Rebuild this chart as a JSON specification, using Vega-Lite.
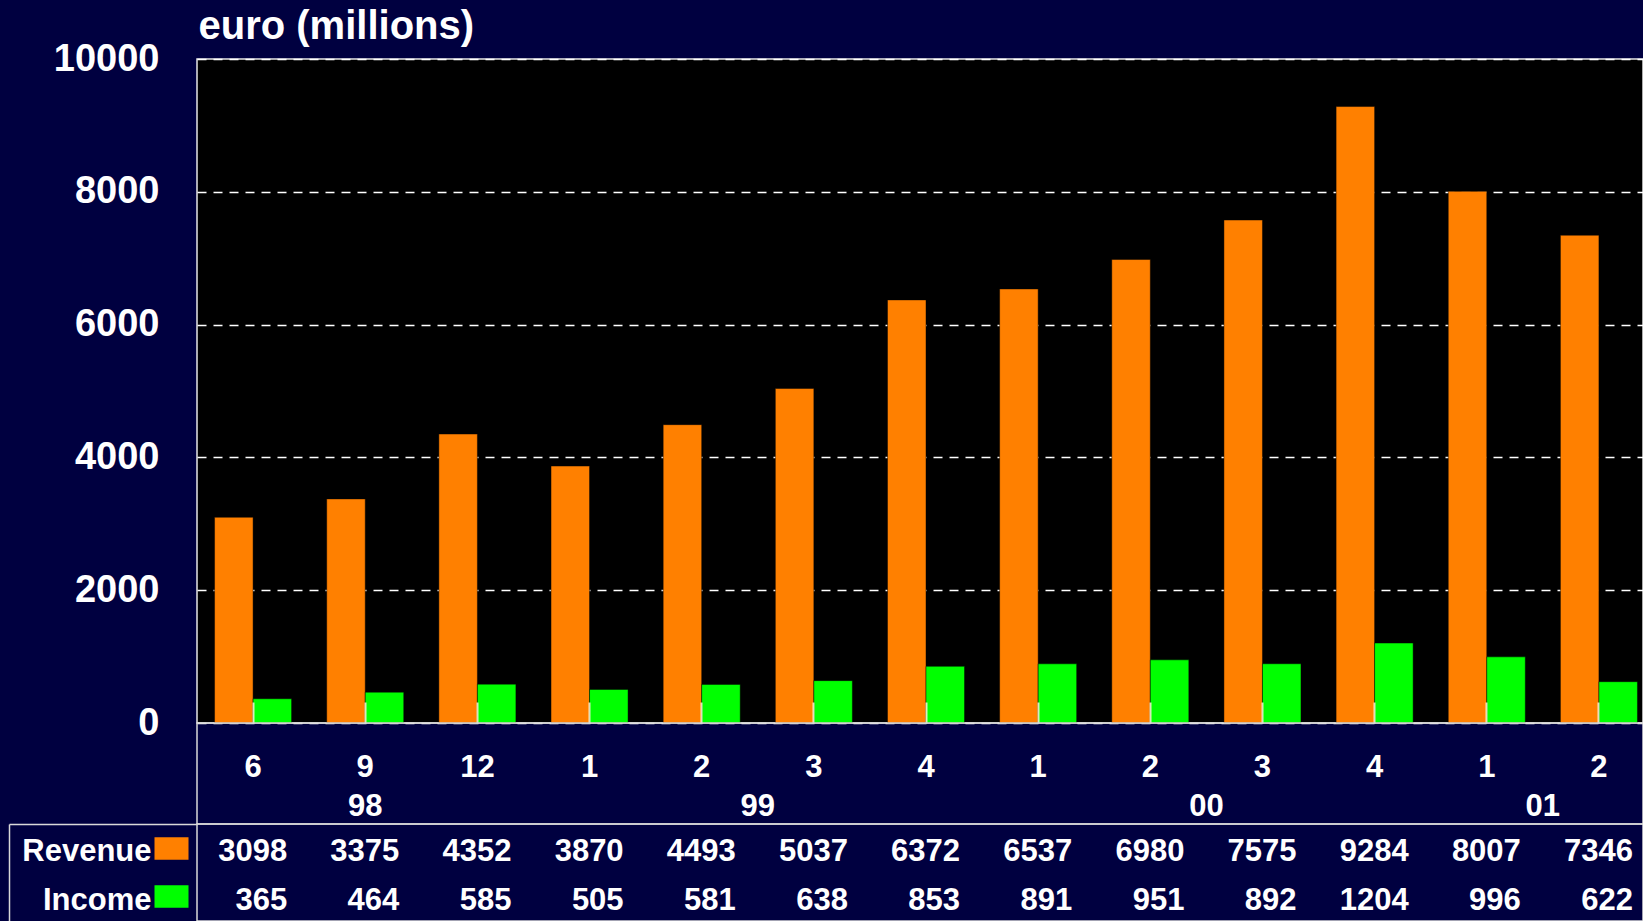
{
  "$schema": "https://vega.github.io/schema/vega-lite/v6.json",
  "background": "#000040",
  "padding": {"left": 7, "top": 5, "right": 0, "bottom": 0},
  "autosize": {"type": "pad"},
  "config": {"font": "Liberation Sans", "axis": {"labelFont": "Liberation Sans", "titleFont": "Liberation Sans"}},
  "datasets": {
    "quarters": [
      {"period": "1998-06", "quarter": "6", "year": "98", "Revenue": 3098, "Income": 365},
      {"period": "1998-09", "quarter": "9", "year": "98", "Revenue": 3375, "Income": 464},
      {"period": "1998-12", "quarter": "12", "year": "98", "Revenue": 4352, "Income": 585},
      {"period": "1999-Q1", "quarter": "1", "year": "99", "Revenue": 3870, "Income": 505},
      {"period": "1999-Q2", "quarter": "2", "year": "99", "Revenue": 4493, "Income": 581},
      {"period": "1999-Q3", "quarter": "3", "year": "99", "Revenue": 5037, "Income": 638},
      {"period": "1999-Q4", "quarter": "4", "year": "99", "Revenue": 6372, "Income": 853},
      {"period": "2000-Q1", "quarter": "1", "year": "00", "Revenue": 6537, "Income": 891},
      {"period": "2000-Q2", "quarter": "2", "year": "00", "Revenue": 6980, "Income": 951},
      {"period": "2000-Q3", "quarter": "3", "year": "00", "Revenue": 7575, "Income": 892},
      {"period": "2000-Q4", "quarter": "4", "year": "00", "Revenue": 9284, "Income": 1204},
      {"period": "2001-Q1", "quarter": "1", "year": "01", "Revenue": 8007, "Income": 996},
      {"period": "2001-Q2", "quarter": "2", "year": "01", "Revenue": 7346, "Income": 622}
    ],
    "yearsMid": [{"period": "1998-09", "year": "98"}],
    "yearsEdge": [
      {"period": "1999-Q2", "year": "99"},
      {"period": "2000-Q2", "year": "00"},
      {"period": "2001-Q1", "year": "01"}
    ]
  },
  "spacing": 0,
  "bounds": "flush",
  "vconcat": [
    {
      "width": 1446,
      "height": 664,
      "view": {"fill": "#000000", "stroke": "#e6e6e6", "strokeWidth": 1.5},
      "data": {"name": "quarters"},
      "transform": [{"fold": ["Revenue", "Income"], "as": ["series", "value"]}],
      "mark": {"type": "bar", "stroke": "#000000", "strokeOpacity": 0.45, "strokeWidth": 1},
      "encoding": {
        "x": {
          "field": "period", "type": "ordinal",
          "scale": {"type": "band", "domain": ["1998-06","1998-09","1998-12","1999-Q1","1999-Q2","1999-Q3","1999-Q4","2000-Q1","2000-Q2","2000-Q3","2000-Q4","2001-Q1","2001-Q2"], "range": [0, 1458], "paddingInner": 0, "paddingOuter": 0},
          "axis": {"orient": "bottom", "bandPosition": 0.5, "labels": false, "domain": false, "ticks": true, "tickSize": -21, "tickColor": "#fff8dc", "tickOpacity": 0.85, "tickWidth": 2, "grid": false, "title": null, "zindex": 1}
        },
        "xOffset": {"field": "series", "type": "nominal", "scale": {"domain": ["Revenue", "Income"], "paddingInner": 0, "paddingOuter": 0.456}},
        "y": {
          "field": "value", "type": "quantitative",
          "scale": {"domain": [0, 10000], "nice": false},
          "axis": {"title": "euro (millions)", "titleAngle": 0, "titleAlign": "left", "titleBaseline": "alphabetic", "titleX": 1, "titleY": -21, "titleFontSize": 40, "titleFontWeight": "bold", "titleColor": "white", "labelFontSize": 38, "labelFontWeight": "bold", "labelColor": "white", "labelPadding": 38, "format": "d", "ticks": false, "domain": false, "grid": true, "gridColor": "white", "gridDash": [9, 7], "gridWidth": 1.5, "values": [0, 2000, 4000, 6000, 8000, 10000]}
        },
        "color": {"field": "series", "type": "nominal", "scale": {"domain": ["Revenue", "Income"], "range": ["#FF8000", "#00FF00"]}, "legend": null}
      }
    },
    {
      "width": 1446,
      "height": 101,
      "view": {"fill": null, "stroke": "#d9d9d9", "strokeWidth": 1.5},
      "layer": [
        {
          "data": {"name": "quarters"},
          "mark": {"type": "text", "fontSize": 31, "fontWeight": "bold", "fill": "white", "baseline": "middle", "dy": -6},
          "encoding": {
            "x": {
              "field": "period", "type": "ordinal",
              "scale": {"type": "band", "domain": ["1998-06","1998-09","1998-12","1999-Q1","1999-Q2","1999-Q3","1999-Q4","2000-Q1","2000-Q2","2000-Q3","2000-Q4","2001-Q1","2001-Q2"], "range": [0, 1458], "paddingInner": 0, "paddingOuter": 0},
              "axis": {"orient": "bottom", "grid": true, "gridColor": "#d9d9d9", "gridWidth": 1.5, "bandPosition": 0, "labels": false, "ticks": false, "domain": false, "title": null}
            },
            "text": {"field": "quarter", "type": "nominal"}
          }
        },
        {
          "data": {"name": "yearsMid"},
          "mark": {"type": "text", "fontSize": 31, "fontWeight": "bold", "fill": "white", "baseline": "middle", "dy": 33},
          "encoding": {
            "x": {"field": "period", "type": "ordinal", "bandPosition": 0.5, "axis": null},
            "text": {"field": "year", "type": "nominal"}
          }
        },
        {
          "data": {"name": "yearsEdge"},
          "mark": {"type": "text", "fontSize": 31, "fontWeight": "bold", "fill": "white", "baseline": "middle", "dy": 33},
          "encoding": {
            "x": {"field": "period", "type": "ordinal", "bandPosition": 1, "axis": null},
            "text": {"field": "year", "type": "nominal"}
          }
        }
      ]
    },
    {
      "width": 1446,
      "height": 97,
      "view": {"fill": null, "stroke": "#d9d9d9", "strokeWidth": 1.5},
      "data": {"name": "quarters"},
      "transform": [{"fold": ["Revenue", "Income"], "as": ["series", "value"]}],
      "layer": [
        {
          "mark": {"type": "text", "fontSize": 31, "fontWeight": "bold", "fill": "white", "align": "right", "baseline": "middle", "dx": -22, "dy": 4},
          "encoding": {
            "x": {
              "field": "period", "type": "ordinal", "bandPosition": 1,
              "scale": {"type": "band", "domain": ["1998-06","1998-09","1998-12","1999-Q1","1999-Q2","1999-Q3","1999-Q4","2000-Q1","2000-Q2","2000-Q3","2000-Q4","2001-Q1","2001-Q2"], "range": [0, 1458], "paddingInner": 0, "paddingOuter": 0},
              "axis": {"orient": "bottom", "grid": true, "gridColor": "#d9d9d9", "gridWidth": 1.5, "bandPosition": 0, "labels": false, "ticks": false, "domain": false, "title": null}
            },
            "y": {
              "field": "series", "type": "nominal",
              "scale": {"type": "band", "domain": ["Revenue", "Income"], "paddingInner": 0, "paddingOuter": 0},
              "axis": {"orient": "left", "offset": 188, "title": null, "domain": true, "domainColor": "#d9d9d9", "domainWidth": 1.5, "ticks": true, "tickSize": -188, "tickWidth": 1.5, "tickColor": {"condition": {"test": "datum.value === 'Revenue'", "value": "#d9d9d9"}, "value": "transparent"}, "bandPosition": 0, "labelOffset": 4, "labelPadding": 46, "labelFontSize": 31, "labelFontWeight": "bold", "labelColor": "white", "labelAlign": "right", "labelBaseline": "middle", "grid": false}
            },
            "text": {"field": "value", "type": "quantitative", "format": "d"}
          }
        },
        {
          "mark": {"type": "text", "opacity": 0},
          "encoding": {
            "x": {"field": "period", "type": "ordinal", "axis": null},
            "y": {
              "field": "series", "type": "nominal",
              "scale": {"type": "band", "domain": ["Revenue", "Income"], "paddingInner": 0, "paddingOuter": 0},
              "axis": {"orient": "left", "offset": 9, "title": null, "domain": false, "labels": false, "ticks": true, "tickSize": 34, "tickWidth": 22.6, "tickColor": {"condition": {"test": "datum.value === 'Revenue'", "value": "#FF8000"}, "value": "#00FF00"}, "bandPosition": 0.5, "grid": false}
            },
            "text": {"value": "x"}
          }
        }
      ],
      "resolve": {"scale": {"y": "independent"}}
    }
  ]
}
